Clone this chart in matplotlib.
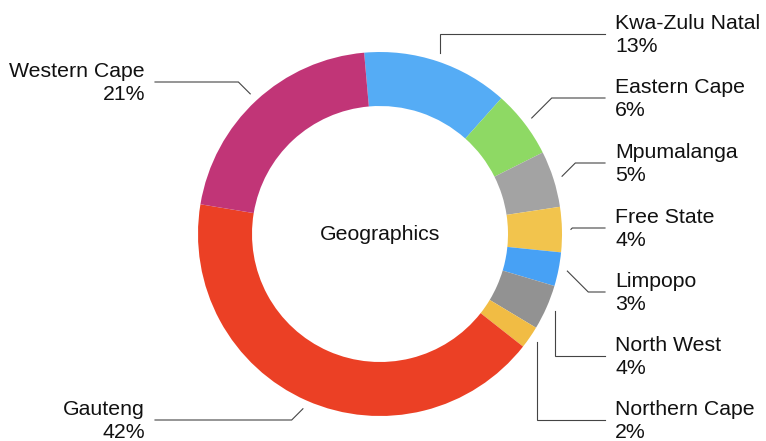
import matplotlib
matplotlib.use('Agg')
import matplotlib.pyplot as plt
import numpy as np

# ---- data ----
regions = ["Kwa-Zulu Natal", "Eastern Cape", "Mpumalanga", "Free State", "Limpopo",
           "North West", "Northern Cape", "Gauteng", "Western Cape"]
shares = [13, 6, 5, 4, 3, 4, 2, 42, 21]
colors = ["#55ACF5", "#8ED964", "#A3A3A3", "#F2C44D", "#47A1F5",
          "#929292", "#F1BC44", "#EB4025", "#C13577"]
center_label = "Geographics"

# ---- layout (pixels) ----
W, H = 766, 441
cx, cy = 380, 234
R = 182
ring = 54
label_line_y = [34, 98, 163, 228, 292, 356, 420, 420, 82]
bend = ['vert', 'diag', 'diag', 'diag', 'diag', 'vert', 'vert', 'diag', 'diag']

plt.rcParams['font.family'] = ['Liberation Sans', 'DejaVu Sans']
fig = plt.figure(figsize=(W / 100, H / 100), dpi=100)
ax = fig.add_axes([0, 0, 1, 1])
wedges, _ = ax.pie(shares, colors=colors, startangle=95, counterclock=False,
                   radius=R, center=(cx, H - cy), frame=True,
                   wedgeprops=dict(width=ring, linewidth=0))
ax.set_xlim(0, W)
ax.set_ylim(0, H)
ax.axis('off')

ax.text(cx, H - cy, center_label, ha='center', va='center', fontsize=15.3, color='#111111')

ra = R + 9
for w, name, s, ly, b in zip(wedges, regions, shares, label_line_y, bend):
    th = np.deg2rad((w.theta1 + w.theta2) / 2)
    axx = cx + ra * np.cos(th)
    ayy = (H - cy) + ra * np.sin(th)
    LY = H - ly
    side = 1 if np.cos(th) > 0 else -1
    dy = abs(LY - ayy)
    ex = axx + side * dy if b == 'diag' else axx
    endx = 605 if side > 0 else 155
    ax.plot([axx, ex, endx], [ayy, LY, LY], color='#444444', lw=0.8,
            solid_joinstyle='miter')
    tx = 615 if side > 0 else 145
    ax.text(tx, LY - 1, f"{name}\n{s}%", ha='left' if side > 0 else 'right',
            va='center', multialignment='left' if side > 0 else 'right',
            fontsize=15.3, linespacing=1.26, color='#111111')

fig.savefig('out.png', dpi=100)
